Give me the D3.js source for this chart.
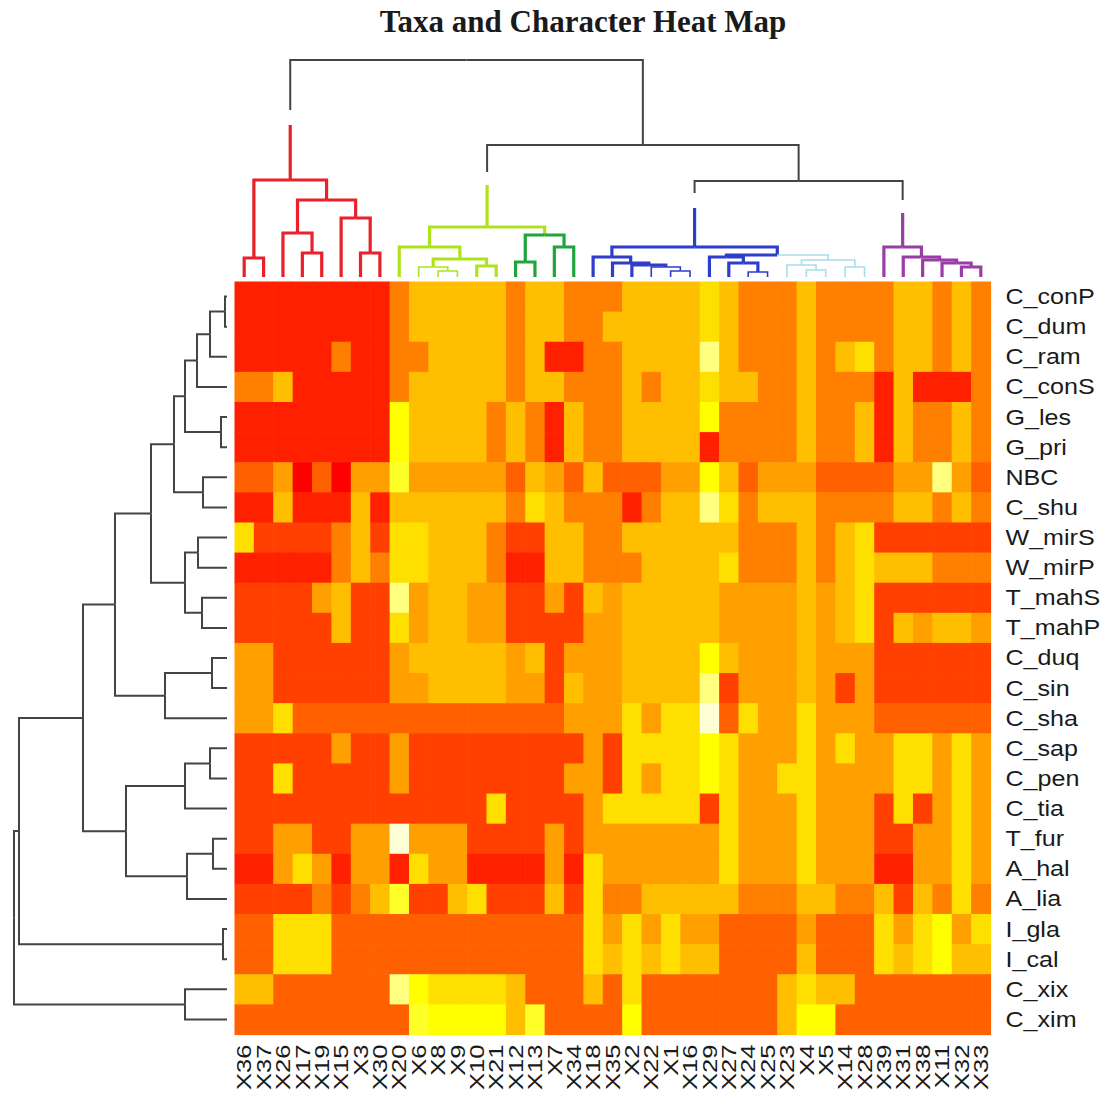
<!DOCTYPE html>
<html>
<head>
<meta charset="utf-8">
<script src="https://cdn.jsdelivr.net/npm/d3@7"></script>
<style>
  body { margin: 0; background: #fff; }
  text { font-family: "Liberation Sans", Arial, sans-serif; fill: #1a1a1a; }
  .title { font-family: "Liberation Serif", "Times New Roman", serif; font-weight: bold; }
</style>
</head>
<body>
<svg id="chart" width="1106" height="1095"></svg>
<script>
// ── data ───────────────────────────────────────────────────────────────────
const colLabels = ['X36','X37','X26','X17','X19','X15','X3','X30','X20','X6','X8','X9','X10',
  'X21','X12','X13','X7','X34','X18','X35','X2','X22','X1','X16','X29','X27','X24','X25',
  'X23','X4','X5','X14','X28','X39','X31','X38','X11','X32','X33'];
const rowLabels = ['C_conP','C_dum','C_ram','C_conS','G_les','G_pri','NBC','C_shu','W_mirS',
  'W_mirP','T_mahS','T_mahP','C_duq','C_sin','C_sha','C_sap','C_pen','C_tia','T_fur','A_hal',
  'A_lia','I_gla','I_cal','C_xix','C_xim'];

// heat.colors(12): 0 = red ... b = pale cream
const heatColors = ['#FF0000','#FF2000','#FF4000','#FF6000','#FF8000','#FF9F00',
  '#FFBF00','#FFDF00','#FFFF00','#FFFF2A','#FFFF80','#FFFFD5'];

// one string per row, one hex digit (colour level) per column
const heatRows = [
  '111111114666664664446666764446444466464', // C_conP
  '111111114666664664466666764446444466464', // C_dum
  '111114114466664611446666a64446467466464', // C_ram
  '446111114666664664446466766446444161114', // C_conS
  '111111118666646416446666844446446164464', // G_les
  '111111118666646416446666144446446164464', // G_pri
  '335030559555553653633355863555333355a53', // NBC
  '116111616666664764441466a74666444466464', // C_shu
  '722224627766642266446666664446467222222', // W_mirS
  '111114647766641166444666674446467666444', // W_mirP
  '22225622a566552252656666655556567222222', // T_mahS
  '222226227566552222556666655556567265665', // T_mahP
  '552222225666665625556666865556555222222', // C_duq
  '552222225566665526556666a25556525222222', // C_sin
  '557333333333333335557577b37557555333333', // C_sha
  '222225225222222222527777875557575577575', // C_sap
  '227222225222222225527577875577555577575', // C_pen
  '222222222222272222577777275557555272575', // C_tia
  '22552255b555222252555555575557555225575', // T_fur
  '115751551755111151755555575557555115575', // A_hal
  '222242469226722262744666664446644626474', // A_lia
  '337773333333333333757575533335333757857', // I_gla
  '337773333333333333767676633336333767866', // I_cal
  '66333333a877776333637333333367663333333', // C_xix
  '333333333988886933338333333368833333333'  // C_xim
];

// dendrograms: n(height, left, right, clusterTag)
function n(h, a, b, tag) { return { h, kids: [a, b], tag }; }

const colTree =
  n(217,
    n(97, n(19, 'X36', 'X37'),
          n(77, n(44, 'X26', n(24, 'X17', 'X19')),
                n(59, 'X15', n(24, 'X3', 'X30'))), 'red'),
    n(132,
      n(50, n(30, 'X20', n(18, n(10, 'X6', n(6, 'X8', 'X9')), n(11, 'X10', 'X21'))),
            n(42, n(15, 'X12', 'X13', 'green'), n(30, 'X7', 'X34', 'green')), 'lime'),
      n(96,
        n(30, n(20, 'X18', n(14, 'X35', n(12, 'X2', n(10, 'X22', n(6, 'X1', 'X16'))))),
              n(22, n(20, 'X29', n(14, 'X27', n(5, 'X24', 'X25'))),
                    n(17, n(12, 'X23', n(7, 'X4', 'X5')), n(10, 'X14', 'X28'), 'lightblue')), 'blue'),
        n(30, 'X39', n(20, 'X31', n(17, 'X38', n(14, 'X11', n(10, 'X32', 'X33')))), 'purple'))));

const rowTree =
  n(213,
    n(208,
      n(144,
        n(112,
          n(76,
            n(53,
              n(42, n(30, n(17, n(2, 'C_conP', 'C_dum'), 'C_ram'), 'C_conS'), n(6, 'G_les', 'G_pri')),
              n(24, 'NBC', 'C_shu')),
            n(42, n(29, 'W_mirS', 'W_mirP'), n(25, 'T_mahS', 'T_mahP'))),
          n(62, n(15, 'C_duq', 'C_sin'), 'C_sha')),
        n(101,
          n(42, n(17, 'C_sap', 'C_pen'), 'C_tia'),
          n(40, n(14, 'T_fur', 'A_hal'), 'A_lia'))),
      n(4, 'I_gla', 'I_cal')),
    n(42, 'C_xix', 'C_xim'));

const clusterColors = { red: '#E8212B', lime: '#AEE31C', green: '#1FA53C',
  blue: '#2E3DCC', lightblue: '#A9DCEA', purple: '#9A3DA6' };
// where a cluster's coloured stem stops and the black one restarts (tree height units)
const stemCuts = { red: [152, 167], lime: [92, 105], blue: [69, 84], purple: [64, 77] };

// ── layout ─────────────────────────────────────────────────────────────────
const hm = { x0: 234.5, x1: 990.5, y0: 281.5, y1: 1034.5 };
const ink = '#444';
const svg = d3.select('#chart');

const x = d3.scaleBand().domain(colLabels).range([hm.x0, hm.x1]);
const y = d3.scaleBand().domain(rowLabels).range([hm.y0, hm.y1]);
const color = d3.scaleOrdinal().domain(d3.range(heatColors.length)).range(heatColors);
const heat = heatRows.map(s => Array.from(s, ch => parseInt(ch, 16)));

// ── heat map cells ─────────────────────────────────────────────────────────
svg.append('g').selectAll('g').data(heat).join('g')
  .selectAll('rect')
  .data((row, i) => row.map((v, j) => ({ r: rowLabels[i], c: colLabels[j], v })))
  .join('rect')
  .attr('x', d => x(d.c)).attr('y', d => y(d.r))
  .attr('width', x.bandwidth() + 0.6).attr('height', y.bandwidth() + 0.6)
  .attr('fill', d => color(d.v));

// ── dendrograms ────────────────────────────────────────────────────────────
function build(tree, pos) {
  const root = d3.hierarchy(tree, d => d.kids && d.kids.map(k => typeof k === 'string' ? { name: k, h: 0 } : k));
  root.eachAfter(d => { d.p = d.children ? d3.mean(d.children, c => c.p) : pos(d.data.name); });
  root.eachBefore(d => { d.col = d.data.tag || (d.parent ? d.parent.col : null); });
  return root;
}

function drawTree(root, hScale, sideways, thin) {
  const pt = (p, h) => sideways ? [hScale(h), p] : [p, hScale(h)];
  const line = d3.line();
  const paths = [];
  root.descendants().forEach(d => {
    const par = d.parent;
    if (!par) return;
    const h = d.data.h, ph = par.data.h;
    const col = d.col ? clusterColors[d.col] : ink;
    const w = !d.col ? 2 : thin(d, par) ? 1.6 : 3.2;
    const cut = d.data.tag && !par.col ? stemCuts[d.data.tag] : null;
    if (cut) {
      paths.push({ pts: [pt(d.p, h), pt(d.p, cut[0])], col, w });
      paths.push({ pts: [pt(d.p, cut[1]), pt(d.p, ph), pt(par.p, ph)], col: ink, w: 2 });
    } else {
      paths.push({ pts: [pt(d.p, h), pt(d.p, ph), pt(par.p, ph)], col, w });
    }
  });
  svg.append('g').selectAll('path').data(paths).join('path')
    .attr('d', d => line(d.pts))
    .attr('fill', 'none')
    .attr('stroke', d => d.col)
    .attr('stroke-width', d => d.w)
    .attr('stroke-linejoin', 'miter');
}

const colRoot = build(colTree, name => x(name) + x.bandwidth() / 2);
const colH = d3.scaleLinear().domain([0, colTree.h]).range([277, 60]);
drawTree(colRoot, colH, false,
  (d, par) => d.col === 'lightblue' || (par.data.h <= 10 && d.col !== 'purple'));

const rowRoot = build(rowTree, name => y(name) + y.bandwidth() / 2);
const rowH = d3.scaleLinear().domain([0, rowTree.h]).range([227, 14]);
drawTree(rowRoot, rowH, true, () => false);

// ── labels (glyphs in the original are wide, hence the stretch) ─────────────
svg.append('g').selectAll('text').data(rowLabels).join('text')
  .attr('transform', d => `translate(${hm.x1 + 15},${y(d) + y.bandwidth() / 2}) scale(1.14,1)`)
  .attr('dominant-baseline', 'central')
  .attr('font-size', 22)
  .text(d => d);

svg.append('g').selectAll('text').data(colLabels).join('text')
  .attr('transform', d => `translate(${x(d) + x.bandwidth() / 2},${hm.y1 + 10}) rotate(-90) scale(1.22,1)`)
  .attr('text-anchor', 'end')
  .attr('dominant-baseline', 'central')
  .attr('font-size', 21)
  .text(d => d);

svg.append('text').attr('class', 'title')
  .attr('x', 583).attr('y', 32)
  .attr('text-anchor', 'middle')
  .attr('font-size', 31)
  .text('Taxa and Character Heat Map');
</script>
</body>
</html>
